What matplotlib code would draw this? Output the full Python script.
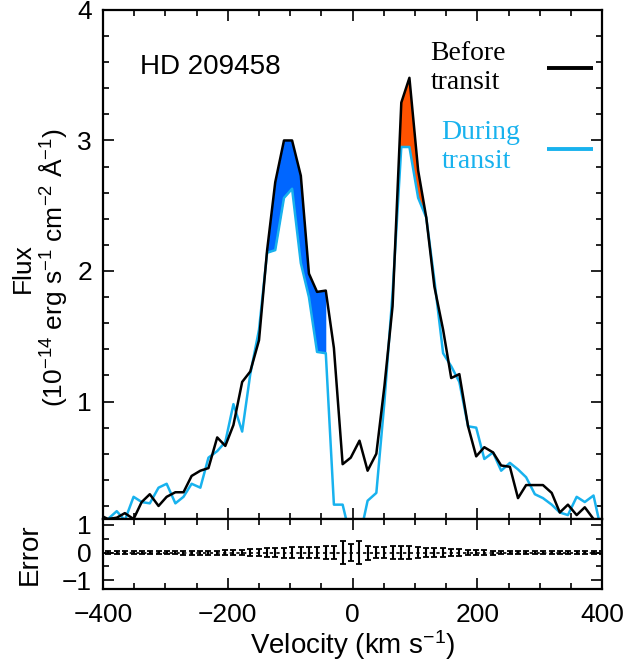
"""Lyman-alpha line of HD 209458 before and during transit, with error panel."""
import matplotlib

matplotlib.use("Agg")
import matplotlib.pyplot as plt
import numpy as np
from matplotlib.ticker import MultipleLocator

plt.rcParams["font.family"] = ["Liberation Sans", "DejaVu Sans"]
plt.rcParams["mathtext.fontset"] = "custom"
plt.rcParams["mathtext.rm"] = "Liberation Sans"
plt.rcParams["mathtext.it"] = "Liberation Sans:italic"

# Velocity bins (km/s)
velocity = [
    -405, -392, -378, -365, -351, -338, -325, -311, -298, -284,
    -271, -258, -244, -231, -217, -204, -191, -177, -164, -150,
    -137, -124, -110, -97, -83, -70, -57, -43, -30, -16,
    -3, 11, 24, 38, 51, 64, 78, 91, 105, 118,
    131, 145, 158, 171, 185, 198, 211, 225, 238, 252,
    265, 278, 292, 305, 319, 332, 345, 359, 372, 386, 399,
]

# Flux before transit (1e-14 erg/s/cm2/A)
flux_before = [
    0.13, 0.10, 0.11, 0.145, 0.10, 0.23, 0.29, 0.20, 0.27, 0.305,
    0.305, 0.43, 0.47, 0.49, 0.725, 0.66, 0.82, 1.15, 1.23, 1.47,
    2.16, 2.68, 3.00, 3.00, 2.73, 1.98, 1.84, 1.85, 1.41, 0.52,
    0.57, 0.70, 0.47, 0.60, 1.12, 1.73, 3.29, 3.48, 2.77, 2.41,
    1.88, 1.55, 1.18, 1.21, 0.81, 0.58, 0.65, 0.61, 0.51, 0.50,
    0.26, 0.36, 0.36, 0.36, 0.30, 0.15, 0.21, 0.13, 0.19, 0.10, 0.06,
]

# Flux during transit
flux_during = [
    0.06, 0.10, 0.16, 0.09, 0.27, 0.23, 0.22, 0.34, 0.37, 0.22,
    0.27, 0.37, 0.34, 0.57, 0.62, 0.69, 0.98, 0.77, 1.21, 1.55,
    2.14, 2.16, 2.56, 2.63, 2.06, 1.80, 1.38, 1.37, 0.21, 0.21,
    -0.05, -0.05, 0.24, 0.30, 1.00, 1.83, 2.95, 2.95, 2.56, 2.41,
    1.93, 1.37, 1.27, 1.15, 0.81, 0.80, 0.56, 0.61, 0.47, 0.53,
    0.48, 0.42, 0.29, 0.26, 0.21, 0.15, 0.13, 0.27, 0.23, 0.28, 0.00,
]

# Error bar half-sizes per bin
flux_error = [
    0.05, 0.05, 0.05, 0.05, 0.05, 0.06, 0.06, 0.06, 0.06, 0.06,
    0.07, 0.07, 0.07, 0.07, 0.07, 0.10, 0.10, 0.10, 0.14, 0.14,
    0.16, 0.17, 0.18, 0.19, 0.19, 0.19, 0.20, 0.22, 0.24, 0.40,
    0.30, 0.42, 0.25, 0.19, 0.20, 0.22, 0.22, 0.22, 0.20, 0.17,
    0.17, 0.15, 0.14, 0.12, 0.10, 0.08, 0.08, 0.07, 0.06, 0.06,
    0.06, 0.06, 0.06, 0.05, 0.05, 0.05, 0.05, 0.05, 0.05, 0.05, 0.05,
]

# Bin ranges of the absorbed regions (blue wing and red wing)
blue_wing = (20, 27)
red_wing_top = (33, 39)
red_wing_bottom = (34, 39)

BLACK = "black"
SKY = "#18b2ee"
FILL_BLUE = "#0066ff"
FILL_RED = "#ff5200"

v = np.array(velocity)
fb = np.array(flux_before)
fd = np.array(flux_during)
err = np.array(flux_error)

fig = plt.figure(figsize=(6.28, 6.62), dpi=100)
ax = fig.add_axes([0.164, 0.216, 0.795, 0.769])
ax_err = fig.add_axes([0.164, 0.110, 0.795, 0.106], sharex=ax)

# absorbed regions
i0, i1 = blue_wing
ax.fill_between(v[i0:i1 + 1], fd[i0:i1 + 1], fb[i0:i1 + 1],
                color=FILL_BLUE, lw=0, zorder=1)
a0, a1 = red_wing_top
b0, b1 = red_wing_bottom
ax.fill(np.concatenate([v[a0:a1 + 1], v[b0:b1 + 1][::-1]]),
        np.concatenate([fb[a0:a1 + 1], fd[b0:b1 + 1][::-1]]),
        color=FILL_RED, lw=0, zorder=1)

ax.plot(v, fd, color=SKY, lw=1.8, zorder=2)
ax.plot(v, fb, color=BLACK, lw=1.8, zorder=3)

ax.set_xlim(-400, 400)
ax.set_ylim(0.1, 4.0)
ax.yaxis.set_major_locator(MultipleLocator(1))
ax.yaxis.set_minor_locator(MultipleLocator(0.2))
ax.xaxis.set_major_locator(MultipleLocator(200))
ax.xaxis.set_minor_locator(MultipleLocator(50))
ax.tick_params(axis="x", labelbottom=False)

for a in (ax, ax_err):
    a.tick_params(which="both", direction="in", top=True, right=True,
                  labelsize=19, width=1.2)
    a.tick_params(which="major", length=8)
    a.tick_params(which="minor", length=4)
    a.tick_params(axis="y", pad=8)
    for s in a.spines.values():
        s.set_linewidth(1.6)
ax_err.tick_params(axis="x", pad=10)

ax.text(0.074, 0.888, "HD 209458", transform=ax.transAxes, fontsize=20,
        va="center", ha="left")

# hand-made legend
ax.text(0.656, 0.886, "Before\ntransit", transform=ax.transAxes,
        family="Liberation Serif", fontsize=20, color=BLACK,
        va="center", ha="left", linespacing=1.2)
ax.text(0.678, 0.731, "During\ntransit", transform=ax.transAxes,
        family="Liberation Serif", fontsize=20, color=SKY,
        va="center", ha="left", linespacing=1.2)
ax.plot([0.889, 0.981], [0.885, 0.885], transform=ax.transAxes,
        color=BLACK, lw=2.8, solid_capstyle="butt")
ax.plot([0.889, 0.981], [0.726, 0.726], transform=ax.transAxes,
        color=SKY, lw=2.8, solid_capstyle="butt")

# error panel
ax_err.axhline(0, color=BLACK, lw=1.2, ls=(0, (2, 2)))
ax_err.errorbar(v, np.zeros_like(v, dtype=float), yerr=err, fmt="none",
                ecolor=BLACK, elinewidth=1.5, capsize=2.5, capthick=1.3)
ax_err.set_ylim(-1.32, 1.21)
ax_err.yaxis.set_minor_locator(MultipleLocator(0.5))
ax_err.set_yticks([-1, 0, 1], ["\u22121", "0", "1"])
ax_err.set_xticks([-400, -200, 0, 200, 400],
                  ["\u2212400", "\u2212200", "0", "200", "400"])
ax_err.set_xlabel("Velocity (km s$^{-1}$)", fontsize=20, labelpad=1)

fig.text(40 / 628, 1 - 268 / 662,
         "Flux\n(10$^{-14}$ erg s$^{-1}$ cm$^{-2}$ \u00c5$^{-1}$)",
         rotation=90, ha="center", va="center", fontsize=19,
         linespacing=1.05, multialignment="center")
fig.text(30 / 628, 1 - 554 / 662, "Error", rotation=90, ha="center",
         va="center", fontsize=20)

fig.savefig("out.png", dpi=100)
